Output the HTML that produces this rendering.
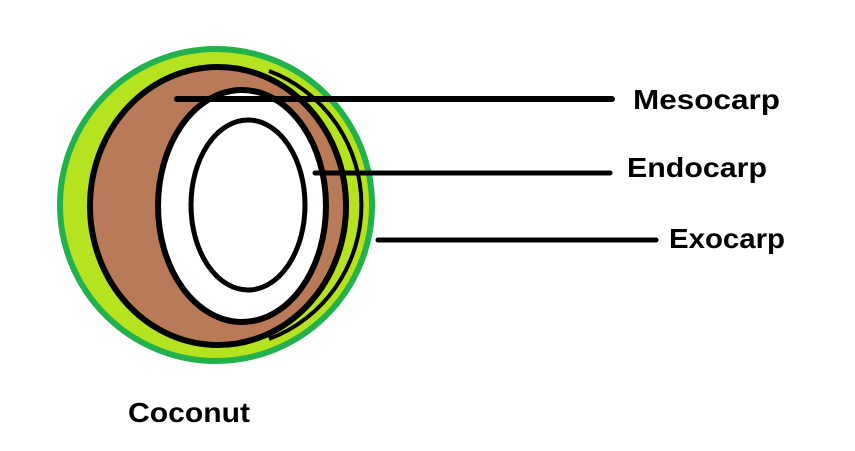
<!DOCTYPE html>
<html><head><style>body{margin:0;background:#fff}svg{display:block}</style></head>
<body>
<svg width="855" height="451" xmlns="http://www.w3.org/2000/svg">
<rect width="855" height="451" fill="#fff"/>
<circle cx="216" cy="205" r="156" fill="#b5e31f" stroke="#22b14c" stroke-width="6"/>
<path d="M 269 71 A 142 143 0 0 1 269 339" fill="none" stroke="#000" stroke-width="4"/>
<ellipse cx="218" cy="206" rx="128" ry="139" fill="#b97a57" stroke="#000" stroke-width="6"/>
<ellipse cx="242" cy="206" rx="84" ry="116" fill="#fff" stroke="#000" stroke-width="6"/>
<ellipse cx="248" cy="205" rx="57" ry="85" fill="#fff" stroke="#000" stroke-width="5"/>
<line x1="177" y1="99" x2="612" y2="99" stroke="#000" stroke-width="6" stroke-linecap="round"/>
<line x1="315" y1="173" x2="610" y2="173" stroke="#000" stroke-width="5" stroke-linecap="round"/>
<line x1="378" y1="240" x2="656" y2="240" stroke="#000" stroke-width="5" stroke-linecap="round"/>
<g font-family="Liberation Sans, sans-serif" font-weight="bold" font-size="28" fill="#000">
<text x="633" y="109" textLength="147" lengthAdjust="spacingAndGlyphs">Mesocarp</text>
<text x="627" y="177" textLength="140" lengthAdjust="spacingAndGlyphs">Endocarp</text>
<text x="669" y="248" textLength="116" lengthAdjust="spacingAndGlyphs">Exocarp</text>
<text x="128" y="422" textLength="122" lengthAdjust="spacingAndGlyphs">Coconut</text>
</g>
</svg>
</body></html>
